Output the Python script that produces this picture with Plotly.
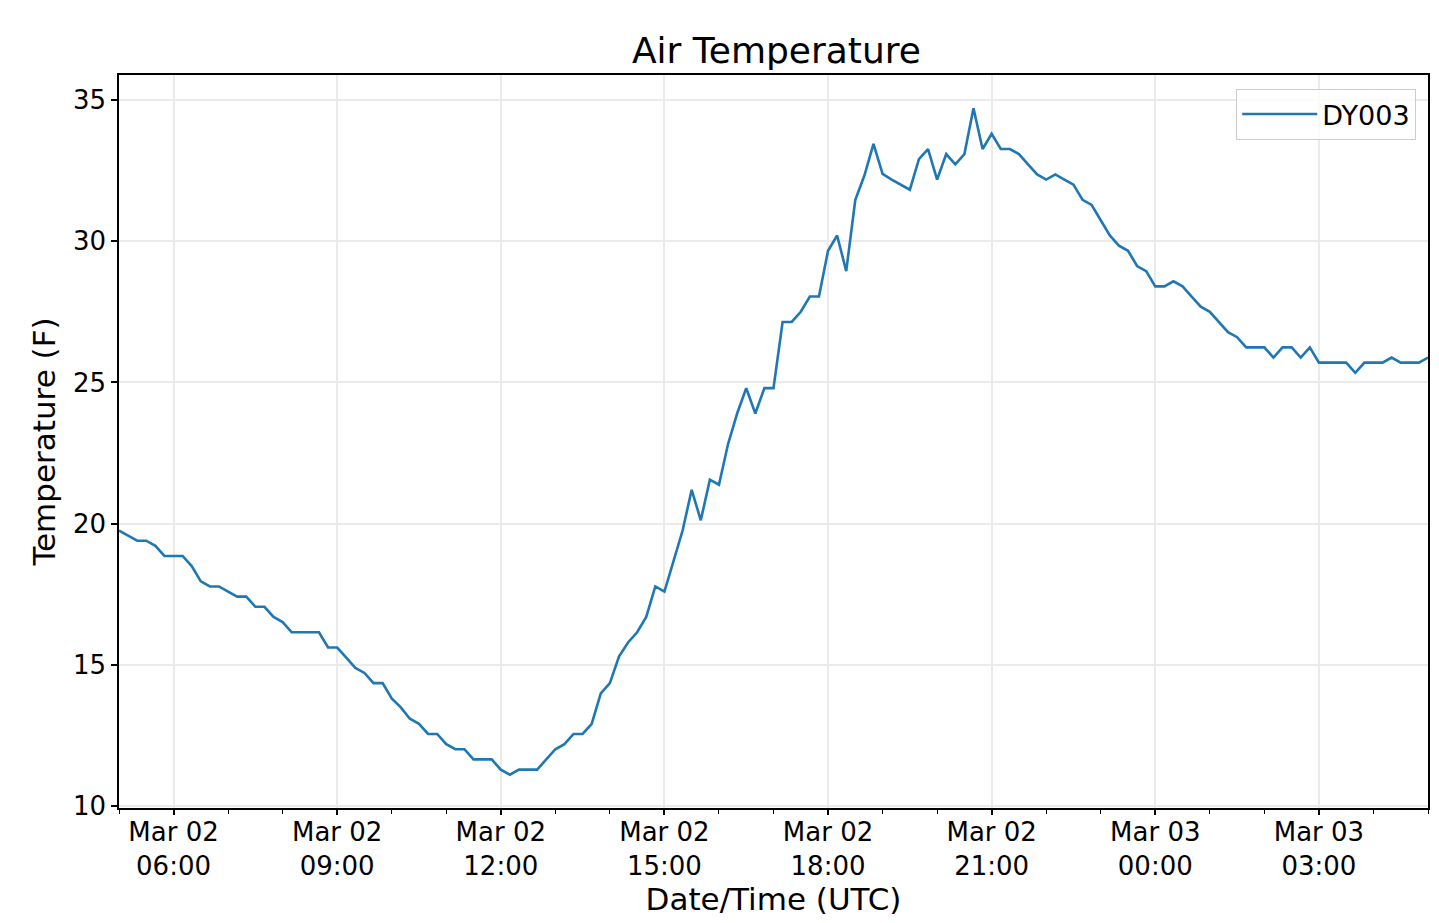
import pandas as pd
import plotly.graph_objects as go

# ── 데이터 ────────────────────────────────────────────────────────────────────
START = "2020-03-02 05:00"
STEP = "10min"

temps_f = [
    19.76, 19.58, 19.40, 19.40, 19.22, 18.86, 18.86, 18.86, 18.50, 17.96,
    17.78, 17.78, 17.60, 17.42, 17.42, 17.06, 17.06, 16.70, 16.52, 16.16,
    16.16, 16.16, 16.16, 15.62, 15.62, 15.26, 14.90, 14.72, 14.36, 14.36,
    13.82, 13.50, 13.10, 12.92, 12.56, 12.56, 12.20, 12.02, 12.02, 11.66,
    11.66, 11.66, 11.30, 11.12, 11.30, 11.30, 11.30, 11.66, 12.02, 12.20,
    12.56, 12.56, 12.92, 14.00, 14.36, 15.30, 15.80, 16.16, 16.70, 17.78,
    17.60, 18.68, 19.76, 21.20, 20.12, 21.56, 21.38, 22.82, 23.90, 24.80,
    23.90, 24.80, 24.80, 27.14, 27.14, 27.50, 28.04, 28.04, 29.66, 30.20,
    28.94, 31.46, 32.32, 33.44, 32.38, 32.18, 32.00, 31.82, 32.90, 33.26,
    32.18, 33.08, 32.72, 33.08, 34.70, 33.26, 33.80, 33.26, 33.26, 33.08,
    32.72, 32.36, 32.18, 32.36, 32.18, 32.00, 31.46, 31.28, 30.74, 30.20,
    29.84, 29.66, 29.12, 28.94, 28.40, 28.40, 28.58, 28.40, 28.04, 27.68,
    27.50, 27.14, 26.78, 26.60, 26.24, 26.24, 26.24, 25.88, 26.24, 26.24,
    25.88, 26.24, 25.70, 25.70, 25.70, 25.70, 25.34, 25.70, 25.70, 25.70,
    25.88, 25.70, 25.70, 25.70, 25.88,
]

x_tick_vals = [
    "2020-03-02 06:00", "2020-03-02 09:00", "2020-03-02 12:00", "2020-03-02 15:00",
    "2020-03-02 18:00", "2020-03-02 21:00", "2020-03-03 00:00", "2020-03-03 03:00",
]
x_tick_text = [
    "Mar 02<br>06:00", "Mar 02<br>09:00", "Mar 02<br>12:00", "Mar 02<br>15:00",
    "Mar 02<br>18:00", "Mar 02<br>21:00", "Mar 03<br>00:00", "Mar 03<br>03:00",
]
y_tick_vals = [10, 15, 20, 25, 30, 35]

times = pd.date_range(START, periods=len(temps_f), freq=STEP)

# ── 차트 ─────────────────────────────────────────────────────────────────────
FONT = "DejaVu Sans"
GRID = "#ebebeb"

# 페이지 body 여백(8px)을 감안해 크기/여백 보정
W, H = 1431, 915

fig = go.Figure()
fig.add_trace(go.Scatter(
    x=times, y=temps_f,
    mode="lines",
    name="DY003",
    line=dict(color="#1f77b4", width=2.6),
))

ymin, ymax = min(temps_f), max(temps_f)
pad = (ymax - ymin) * 0.05

fig.update_layout(
    width=W, height=H,
    paper_bgcolor="white", plot_bgcolor="white",
    font=dict(family=FONT, color="black", size=26),
    margin=dict(l=111, r=9, t=67, b=115),
    title=dict(text="Air Temperature", font=dict(size=36, family=FONT),
               x=0.537, xanchor="center", y=1 - 42 / H, yanchor="middle",
               yref="container"),
    showlegend=True,
    legend=dict(
        x=0.991, y=0.981, xanchor="right", yanchor="top",
        bordercolor="#cccccc", borderwidth=1, bgcolor="rgba(255,255,255,0.8)",
        font=dict(size=27, family=FONT), itemwidth=75,
    ),
)

fig.update_xaxes(
    type="date",
    range=[times[0], times[-1]],
    tickvals=x_tick_vals, ticktext=x_tick_text,
    ticks="outside", ticklen=5, tickwidth=1.5, tickcolor="black",
    ticklabelstandoff=-5,
    showline=True, linecolor="black", linewidth=1.5, mirror=True,
    showgrid=True, gridcolor=GRID, gridwidth=1.5,
    minor=dict(dtick=3600000, ticks="outside", ticklen=4, tickwidth=1,
               tickcolor="black", showgrid=False),
    tickfont=dict(size=26),
    title=dict(text="Date/Time (UTC)", font=dict(size=31), standoff=2),
    zeroline=False,
)

fig.update_yaxes(
    range=[ymin - pad, ymax + pad],
    tickvals=y_tick_vals,
    ticks="outside", ticklen=6, tickwidth=1.5, tickcolor="black",
    showline=True, linecolor="black", linewidth=1.5, mirror=True,
    showgrid=True, gridcolor=GRID, gridwidth=1.5,
    tickfont=dict(size=26),
    title=dict(text="Temperature (F)", font=dict(size=31), standoff=8),
    zeroline=False,
)

fig.write_html("out.html")
